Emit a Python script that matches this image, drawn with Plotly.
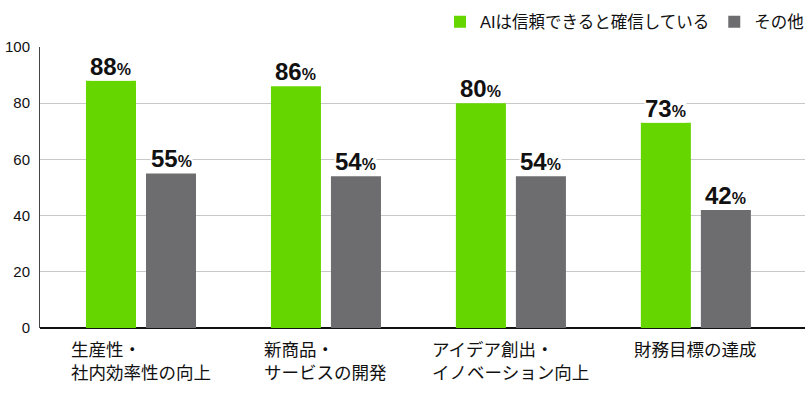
import plotly.graph_objects as go

categories = ["生産性・<br>社内効率性の向上", "新商品・<br>サービスの開発", "アイデア創出・<br>イノベーション向上", "財務目標の達成"]
series_names = ["AIは信頼できると確信している", "その他"]
confident = [88, 86, 80, 73]
others = [55, 54, 54, 42]
y_ticks = [0, 20, 40, 60, 80, 100]

GREEN = "#66d600"
GRAY = "#6d6d6f"
FONT = "Liberation Sans, Noto Sans CJK JP, sans-serif"

idx = list(range(len(categories)))
fig = go.Figure()
fig.add_trace(go.Bar(x=idx, y=confident, name=series_names[0], marker_color=GREEN, marker_line_width=0))
fig.add_trace(go.Bar(x=idx, y=others, name=series_names[1], marker_color=GRAY, marker_line_width=0))

bargap = 0.351
groupgap = 1 / 6
slot = (1 - bargap) / 2
offsets = [-slot / 2, slot / 2]

annotations = []
for s, vals in enumerate([confident, others]):
    for i, v in zip(idx, vals):
        annotations.append(dict(
            x=i + offsets[s], y=v, xref="x", yref="y",
            text=f"<b>{v}</b><span style='font-size:16px'><b>%</b></span>",
            showarrow=False, yanchor="bottom", xanchor="center", yshift=0,
            font=dict(size=24, color="#111111", family=FONT),
            bgcolor="white", borderpad=0,
        ))
for i, c in zip(idx, categories):
    annotations.append(dict(
        x=i, y=0, xref="x", yref="y", text=c, showarrow=False,
        yanchor="top", xanchor="center", align="left", yshift=-10,
        font=dict(size=17.5, color="#111111", family=FONT),
    ))

fig.update_layout(
    width=809, height=395,
    margin=dict(l=40, r=4, t=47, b=67, autoexpand=False),
    paper_bgcolor="white", plot_bgcolor="white",
    barmode="group", bargap=bargap, bargroupgap=groupgap,
    font=dict(family=FONT, color="#111111"),
    legend=dict(orientation="h", x=1, xanchor="right", xref="container",
                y=1 - 22 / 395, yanchor="middle", yref="container",
                font=dict(size=16.5, color="#111111"), traceorder="normal"),
    annotations=annotations,
    showlegend=True,
)
fig.update_xaxes(range=[-0.546, 3.59], showticklabels=False, showgrid=False,
                 zeroline=False, showline=False, ticks="")
fig.update_yaxes(range=[0, 100], tickvals=y_ticks, showgrid=True, gridcolor="#c8c8c8",
                 gridwidth=1, zeroline=True, zerolinecolor="#111111", zerolinewidth=1.5,
                 showline=True, linecolor="#444444", linewidth=1, ticks="",
                 ticklabelstandoff=6, tickfont=dict(size=15, color="#111111"))

fig.write_html("out.html")
